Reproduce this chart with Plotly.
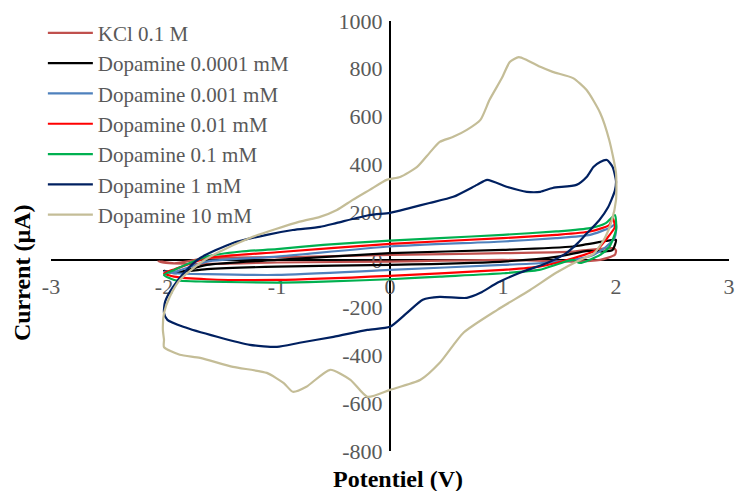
import plotly.graph_objects as go

# ---- data, each loop: forward sweep then reverse ----
names = ["KCl 0.1 M", "Dopamine 0.0001 mM", "Dopamine 0.001 mM", "Dopamine 0.01 mM",
         "Dopamine 0.1 mM", "Dopamine 1 mM", "Dopamine 10 mM"]
colors = ["#C0504D", "#000000", "#4F81BD", "#FF0000", "#00B050", "#002060", "#C4BD97"]

kcl_v = [-2.05, -1.91, -1.62, -1.0, 0.0, 1.0, 1.62, 1.97, 2.0, 1.99, 1.86, 1.62, 1.0, 0.0, -1.0, -1.62, -2.0, -2.05]
kcl_i = [-5, -14, 7, 11, 21, 28, 35, 49, 40, 21, 0, -7, 0, -7, -11, -17, -12, -5]

d0001_v = [-2.0, -1.91, -1.62, -1.0, 0.0, 1.0, 1.62, 1.97, 2.0, 1.97, 1.89, 1.75, 1.5, 1.0, 0.0, -1.0, -1.62, -1.91, -2.0]
d0001_i = [-45, -56, -21, 0, 28, 42, 56, 84, 84, 42, 35, 38, 15, -7, -21, -28, -39, -53, -45]

d001_v = [-2.0, -1.91, -1.62, -1.0, 0.0, 1.0, 1.47, 1.77, 1.94, 2.0, 1.99, 1.91, 1.80, 1.62, 1.32, 1.0, 0.0, -1.0, -1.62, -1.91, -2.0]
d001_i = [-49, -50, -7, 14, 56, 77, 91, 105, 133, 150, 96, 54, 21, 0, -14, -21, -42, -63, -60, -56, -49]

d01_v = [-2.0, -1.91, -1.62, -1.0, 0.0, 1.0, 1.47, 1.77, 1.94, 1.97, 1.99, 1.91, 1.83, 1.62, 1.32, 1.0, 0.0, -1.0, -1.62, -1.91, -2.0]
d01_i = [-56, -40, 7, 32, 67, 91, 105, 119, 146, 175, 138, 84, 42, 7, -28, -42, -67, -84, -81, -70, -56]

d1_v = [-2.0, -1.91, -1.62, -1.32, -1.0, -0.59, 0.0, 0.44, 1.0, 1.47, 1.77, 1.91, 1.99, 2.0, 1.94, 1.86, 1.68, 1.62, 1.32, 1.0, 0.44, 0.0, -0.59, -1.0, -1.62, -1.91, -2.0]
d1_i = [-63, -42, 14, 35, 45, 63, 81, 91, 105, 119, 133, 154, 188, 125, 54, 21, -13, 0, -42, -56, -70, -81, -91, -95, -91, -84, -63]

d10_v = [-2.0, -1.99, -1.92, -1.80, -1.68, -1.39, -1.09, -0.86, -0.62, -0.47, -0.18, 0.0, 0.18, 0.35, 0.56, 0.77, 0.86, 1.04, 1.21, 1.33, 1.44, 1.65, 1.74, 1.80, 1.86, 1.92, 1.97, 2.0,
         1.99, 1.93, 1.85, 1.74, 1.65, 1.55, 1.39, 1.15, 0.95, 0.80, 0.68, 0.44, 0.29, 0.15, 0.0, -0.2, -0.5, -0.8, -1.0, -1.24, -1.53, -1.83, -1.97, -2.0]
d10_i = [-222, -175, -113, -42, 8, 71, 105, 125, 138, 155, 188, 197, 218, 238, 264, 314, 335, 305, 285, 285, 301, 314, 347, 389, 410, 418, 389, 330,
         290, 220, 165, 110, 65, 25, -13, -54, -96, -138, -159, -155, -167, -222, -280, -293, -322, -347, -364, -356, -322, -280, -251, -222]

d100_v = [-2.0, -2.01, -2.0, -1.95, -1.86, -1.68, -1.53, -1.24, -0.8, -0.62, -0.47, -0.33, -0.18, -0.03, 0.09, 0.24, 0.35, 0.44, 0.56, 0.68, 0.80, 0.88, 0.99, 1.06, 1.14, 1.21, 1.33, 1.44, 1.62, 1.74, 1.86, 1.94, 2.0,
          2.0, 1.96, 1.9, 1.8, 1.68, 1.47, 1.24, 0.95, 0.65, 0.44, 0.27, 0.0, -0.2, -0.35, -0.53, -0.74, -0.86, -0.94, -1.09, -1.39, -1.68, -1.86, -2.0, -2.0]
d100_i = [-335, -293, -222, -155, -84, -13, 29, 92, 160, 180, 209, 251, 293, 335, 347, 389, 448, 494, 515, 544, 586, 669, 761, 828, 849, 837, 808, 787, 761, 711, 615, 502, 364,
          250, 160, 90, 25, 0, -54, -126, -209, -305, -431, -502, -544, -573, -502, -460, -531, -552, -516, -473, -448, -410, -397, -365, -335]

series_v = [kcl_v, d0001_v, d001_v, d01_v, d1_v, d10_v, d100_v]
series_i = [kcl_i, d0001_i, d001_i, d01_i, d1_i, d10_i, d100_i]

x_ticks = [-3, -2, -1, 0, 1, 2, 3]
y_ticks = [-800, -600, -400, -200, 0, 200, 400, 600, 800, 1000]

SERIF = "Liberation Serif"

fig = go.Figure()
for k in range(len(names)):
    fig.add_trace(go.Scatter(
        x=series_v[k], y=series_i[k], mode="lines", name=names[k],
        line=dict(color=colors[k], width=2.2, shape="spline", smoothing=0.6),
    ))

fig.update_layout(
    width=736, height=491,
    margin=dict(l=51, r=7, t=21, b=40, autoexpand=False),
    paper_bgcolor="white", plot_bgcolor="white",
    font=dict(family=SERIF, size=22, color="#595959"),
    showlegend=True,
    legend=dict(x=-0.012, y=1.0193, xanchor="left", yanchor="top",
                font=dict(family=SERIF, size=21, color="#595959"),
                bgcolor="rgba(0,0,0,0)", itemwidth=45,
                traceorder="normal"),
    xaxis=dict(range=[-3, 3], tickvals=x_ticks, ticktext=[str(v) for v in x_ticks],
               anchor="free", position=4/9, showline=True, linecolor="black", linewidth=2,
               showgrid=False, zeroline=False, ticks="", layer="below traces",
               tickfont=dict(family=SERIF, size=22, color="#595959"), ticklabelstandoff=7),
    yaxis=dict(range=[-800, 1000], tickvals=y_ticks, ticktext=[str(v) for v in y_ticks],
               anchor="free", position=0.5, showline=True, linecolor="black", linewidth=2,
               showgrid=False, zeroline=False, ticks="", layer="below traces",
               tickfont=dict(family=SERIF, size=22, color="#595959"), ticklabelstandoff=2),
    annotations=[
        dict(text="<b>Potentiel (V)</b>", x=0.5125, y=-0.065, xref="paper", yref="paper",
             xanchor="center", yanchor="middle", showarrow=False,
             font=dict(family=SERIF, size=24, color="black")),
        dict(text="<b>Current (µA)</b>", x=-0.0428, y=0.416, xref="paper", yref="paper",
             xanchor="center", yanchor="middle", showarrow=False, textangle=-90,
             font=dict(family=SERIF, size=24, color="black")),
    ],
)

# remove the browser's default 8px page margin so the 736x491 figure fills the window
fig.write_html("out.html", config={"displayModeBar": False},
               post_script="document.body.style.margin='0';document.body.style.overflow='hidden';")
